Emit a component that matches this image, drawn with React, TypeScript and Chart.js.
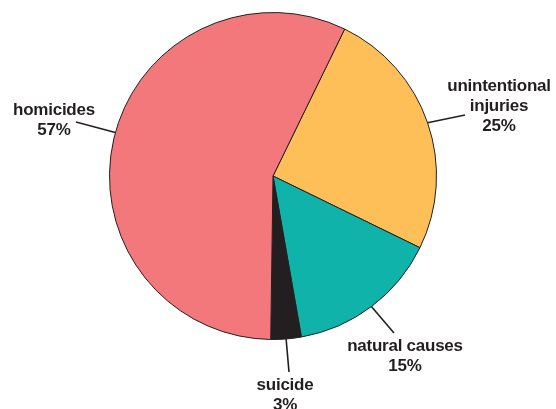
import React, { useEffect, useRef } from "react";
import { Chart, registerables } from "chart.js";

Chart.register(...registerables);

// Causes of death, shares in percent (drawn clockwise from the top-right)
const categories = ["unintentional injuries", "natural causes", "suicide", "homicides"];
const labelLines = [["unintentional", "injuries"], ["natural causes"], ["suicide"], ["homicides"]];
const shares = [25, 15, 3, 57];
const sliceColors = ["#FEBE58", "#10B3A9", "#231F20", "#F3787B"];

const INK = "#231F20";

// Where each callout's text sits and where its leader line ends
const callouts = [
  { textX: 499, firstBaseline: 91, lineEndX: 465, lineEndY: 115, angleNudge: 0 },
  { textX: 405, firstBaseline: 351, lineEndX: 394, lineEndY: 333, angleNudge: 0 },
  { textX: 285, firstBaseline: 390, lineEndX: 289, lineEndY: 372, angleNudge: 0 },
  { textX: 54, firstBaseline: 115, lineEndX: 76, lineEndY: 122, angleNudge: 2 },
];

const calloutPlugin = {
  id: "callouts",
  afterDatasetsDraw(chart: any) {
    const ctx = chart.ctx as CanvasRenderingContext2D;
    const meta = chart.getDatasetMeta(0);
    ctx.save();
    meta.data.forEach((arc: any, i: number) => {
      const c = callouts[i];
      const mid = (arc.startAngle + arc.endAngle) / 2 + (c.angleNudge * Math.PI) / 180;
      const sx = arc.x + Math.cos(mid) * arc.outerRadius;
      const sy = arc.y + Math.sin(mid) * arc.outerRadius;
      ctx.beginPath();
      ctx.moveTo(sx, sy);
      ctx.lineTo(c.lineEndX, c.lineEndY);
      ctx.strokeStyle = INK;
      ctx.lineWidth = 1.6;
      ctx.stroke();

      const lines = [...labelLines[i], `${shares[i]}%`];
      ctx.fillStyle = INK;
      ctx.font = "bold 17px 'Liberation Sans', Arial, sans-serif";
      (ctx as any).letterSpacing = "-0.25px";
      ctx.textAlign = "center";
      ctx.textBaseline = "alphabetic";
      lines.forEach((t, k) => {
        ctx.fillText(t, c.textX, c.firstBaseline + k * 20);
      });
    });
    ctx.restore();
  },
};

export default function App() {
  const canvasRef = useRef<HTMLCanvasElement | null>(null);

  useEffect(() => {
    document.body.style.margin = "0";
    const canvas = canvasRef.current;
    if (!canvas) return;
    const chart = new Chart(canvas, {
      type: "pie",
      data: {
        labels: categories,
        datasets: [
          {
            data: shares,
            backgroundColor: sliceColors,
            borderColor: INK,
            borderWidth: 1,
          },
        ],
      },
      options: {
        responsive: false,
        animation: false,
        rotation: 26,
        layout: { padding: { left: 109, right: 119, top: 12, bottom: 69 } },
        plugins: {
          legend: { display: false },
          tooltip: { enabled: false },
        },
      },
      plugins: [calloutPlugin],
    });
    return () => chart.destroy();
  }, []);

  return (
    <div style={{ position: "absolute", left: 0, top: 0, width: 556, height: 409, background: "#fff" }}>
      <canvas ref={canvasRef} width={556} height={409} style={{ display: "block" }} />
    </div>
  );
}
